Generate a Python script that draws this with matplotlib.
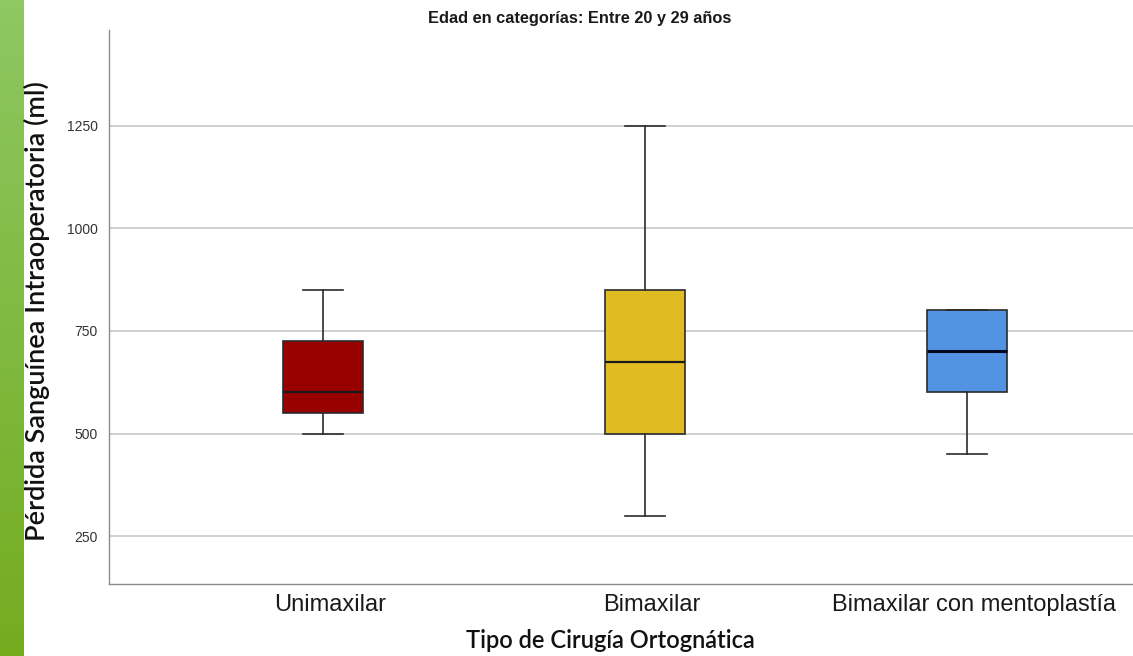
"""Boxplot of intraoperative blood loss by orthognathic surgery type (age 20-29)."""

import matplotlib
matplotlib.use("Agg")
import matplotlib.pyplot as plt
import matplotlib.transforms as mtransforms
import numpy as np
from matplotlib.colors import LinearSegmentedColormap


# --- data ---
categories = ["Unimaxilar", "Bimaxilar", "Bimaxilar con mentoplastía"]
whisker_low = [500, 300, 450]
q1 = [550, 500, 600]
medians = [600, 675, 700]
q3 = [725, 850, 800]
whisker_high = [850, 1250, 800]
box_colors = ["#990000", "#E0BB22", "#5393E3"]
y_ticks = [250, 500, 750, 1000, 1250]

title = "Edad en categorías: Entre 20 y 29 años"
x_label = "Tipo de Cirugía Ortognática"
y_label = "Pérdida Sanguínea Intraoperatoria (ml)"


def main() -> None:
    fig = plt.figure(figsize=(11.33, 6.56), dpi=100)

    # green slide strip on the left edge
    strip = fig.add_axes([0, 0, 23 / 1133, 1])
    green = LinearSegmentedColormap.from_list("strip", ["#8DC862", "#74AC20"])
    strip.imshow(np.linspace(0, 1, 100).reshape(-1, 1), aspect="auto", cmap=green)
    strip.set_axis_off()

    ax = fig.add_axes([109 / 1133, 1 - 584 / 656, 1 - 109 / 1133, (584 - 30) / 656])

    stats = []
    for i, name in enumerate(categories):
        stats.append({
            "label": name,
            "whislo": whisker_low[i],
            "q1": q1[i],
            "med": medians[i],
            "q3": q3[i],
            "whishi": whisker_high[i],
            "fliers": [],
        })

    positions = [1, 2, 3]
    parts = ax.bxp(
        stats,
        positions=positions,
        widths=0.25,
        capwidths=0.125,
        patch_artist=True,
        showfliers=False,
        boxprops={"edgecolor": "#2b2b2b", "linewidth": 1.2},
        whiskerprops={"color": "#2b2b2b", "linewidth": 1.2},
        capprops={"color": "#2b2b2b", "linewidth": 1.2},
        medianprops={"color": "#1a1a1a", "linewidth": 1.6},
        zorder=3,
    )
    for patch, color in zip(parts["boxes"], box_colors):
        patch.set_facecolor(color)
    parts["medians"][2].set_color("#000820")
    parts["medians"][2].set_linewidth(2.2)

    ax.set_xlim(0.335, 3.515)
    ax.set_ylim(133, 1484)
    ax.set_yticks(y_ticks)
    ax.yaxis.grid(True, color="#C8C8C8", linewidth=1.2)
    ax.set_axisbelow(True)

    for side in ["top", "right"]:
        ax.spines[side].set_visible(False)
    for side in ["left", "bottom"]:
        ax.spines[side].set_color("#8c8c8c")
        ax.spines[side].set_linewidth(1.0)

    ax.tick_params(axis="y", length=0, pad=8, labelsize=10, labelcolor="#333333")
    ax.tick_params(axis="x", length=0, pad=7, labelsize=17, labelcolor="#1a1a1a")
    for lbl in ax.get_yticklabels() + ax.get_xticklabels():
        lbl.set_fontfamily("Liberation Sans")
    # category labels sit a few pixels right of the box centres
    nudge = mtransforms.ScaledTranslation(7 / 100, 0, fig.dpi_scale_trans)
    for lbl in ax.get_xticklabels():
        lbl.set_transform(lbl.get_transform() + nudge)

    fig.text(580 / 1133, 1 - 18 / 656, title, ha="center", va="center",
             fontsize=11.8, fontweight="bold", family="Liberation Sans", color="#1a1a1a")
    fig.text(610 / 1133, 1 - 641 / 656, x_label, ha="center", va="center",
             fontsize=17, fontweight="semibold", family="Lato", color="#111111")
    fig.text(37 / 1133, 1 - 311 / 656, y_label, ha="center", va="center", rotation=90,
             fontsize=19.5, fontweight="semibold", family="Lato", color="#111111")

    fig.savefig("out.png", dpi=100, facecolor="white")
    plt.close(fig)


if __name__ == "__main__":
    main()
